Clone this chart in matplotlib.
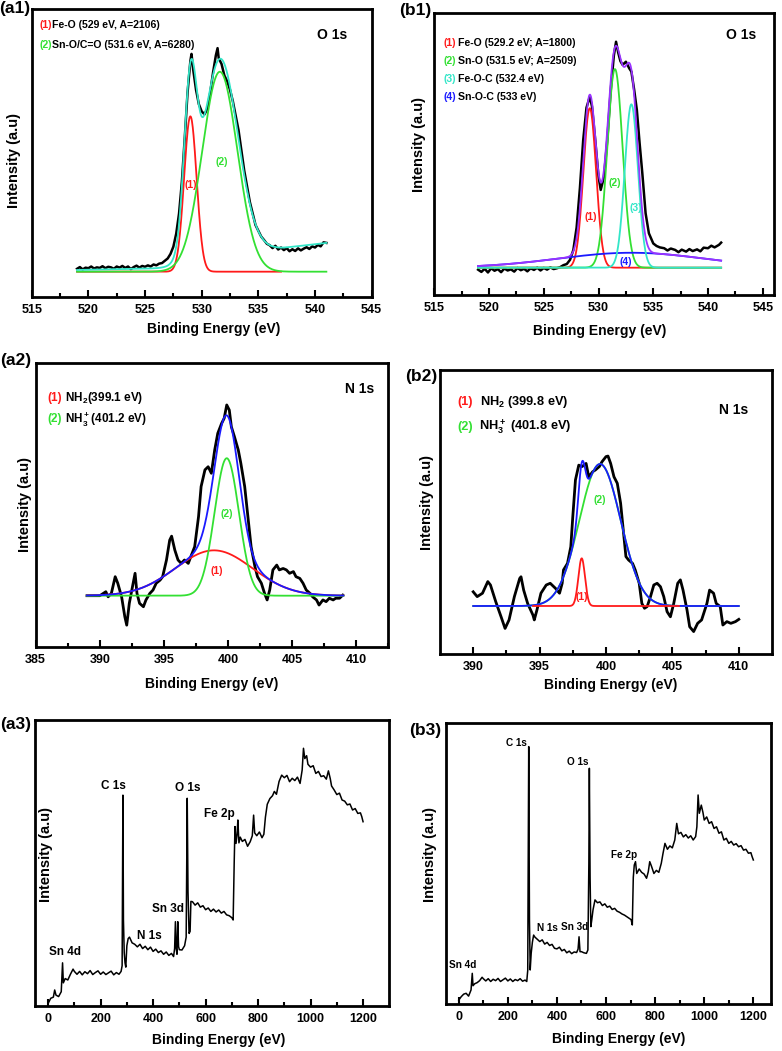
import numpy as np
import matplotlib.pyplot as plt

plt.rcParams['font.family'] = ['Liberation Sans', 'DejaVu Sans']
plt.rcParams['font.weight'] = 'bold'
plt.rcParams['mathtext.fontset'] = 'custom'
plt.rcParams['mathtext.rm'] = 'Liberation Sans:bold'
plt.rcParams['mathtext.bf'] = 'Liberation Sans:bold'

RED, GREEN, CYAN, BLUE, PURPLE = '#ff1a1a', '#33e033', '#33e6c8', '#1a1aff', '#9933ff'

# ---- (a1) O 1s raw spectrum (intensity in % of panel height) ----
a1_x = [519.0, 519.25, 519.5, 519.75, 520.0, 520.25, 520.5, 520.75, 521.0, 521.25, 521.5, 521.75,
        522.0, 522.25, 522.5, 522.75, 523.0, 523.25, 523.5, 523.75, 524.0, 524.25, 524.5, 524.75,
        525.0, 525.25, 525.5, 525.75, 526.0, 526.25, 526.5, 526.75, 527.0, 527.25, 527.5, 527.75,
        528.0, 528.25, 528.5, 528.75, 529.0, 529.1, 529.25, 529.5, 529.75, 530.0, 530.25, 530.5,
        530.75, 531.0, 531.25, 531.4, 531.5, 531.75, 532.0, 532.25, 532.5, 532.75, 533.0, 533.25,
        533.5, 533.75, 534.0, 534.25, 534.5, 534.75, 535.0, 535.25, 535.5, 535.75, 536.0, 536.25,
        536.5, 536.75, 537.0, 537.25, 537.5, 537.75, 538.0, 538.25, 538.5, 538.75, 539.0, 539.25,
        539.5, 539.75, 540.0, 540.25, 540.5, 540.75, 541.0]
a1_y = [9.8, 10.4, 9.6, 10.2, 10.0, 10.6, 9.9, 10.3, 10.1, 10.7, 10.0, 10.5,
        10.3, 9.8, 10.6, 10.2, 10.8, 10.1, 10.6, 9.7, 10.4, 10.9, 10.2, 10.8,
        10.5, 11.0, 10.6, 11.3, 11.0, 11.6, 11.8, 12.6, 13.4, 15.0, 17.5, 22.0,
        29.0, 40.0, 55.0, 71.0, 82.0, 84.5, 79.0, 72.0, 67.0, 64.5, 63.5, 65.5,
        71.0, 78.0, 84.0, 86.5, 83.0, 81.0, 77.0, 75.0, 72.0, 68.0, 63.0, 58.0,
        51.0, 44.0, 38.5, 33.0, 29.0, 25.0, 23.0, 21.0, 19.8, 18.5, 18.0, 17.0,
        17.8, 16.5, 17.2, 16.3, 17.0, 15.9, 16.6, 16.0, 16.9, 16.2, 16.8, 17.3,
        16.7, 17.6, 17.2, 18.1, 17.6, 19.0, 18.8]
a1_base = 8.8
a1_cen = [529.0, 531.6]
a1_amp = [54.0, 69.5]
a1_sig = [0.55, 1.55]
a1_bg_x = [519, 527, 529, 530, 531, 532, 533, 534, 535, 537, 541]
a1_bg_y = [0.6, 1.2, 1.8, 2.8, 3.8, 5.0, 6.3, 7.2, 7.8, 8.2, 10.0]

# ---- (b1) O 1s ----
b1_x = [519.0, 519.3, 519.6, 519.9, 520.2, 520.5, 520.8, 521.1, 521.4, 521.7, 522.0, 522.3, 522.6,
        522.9, 523.2, 523.5, 523.8, 524.1, 524.4, 524.7, 525.0, 525.3, 525.6, 525.9, 526.2, 526.5,
        526.8, 527.1, 527.4, 527.7, 528.0, 528.3, 528.6, 528.9, 529.2, 529.4, 529.7, 530.0, 530.2,
        530.5, 530.8, 531.1, 531.4, 531.6, 531.8, 532.0, 532.2, 532.5, 532.8, 533.0, 533.25, 533.5,
        533.75, 534.0, 534.3, 534.6, 535.0, 535.3, 535.6, 536.0, 536.3, 536.6, 537.0, 537.3, 537.6,
        538.0, 538.3, 538.6, 539.0, 539.3, 539.6, 540.0, 540.3, 540.6, 541.0, 541.2]
b1_y = [9.0, 8.2, 9.3, 8.0, 9.5, 8.6, 9.2, 8.1, 9.4, 8.7, 9.1, 8.3, 9.6,
        8.8, 9.3, 8.4, 9.5, 8.9, 9.7, 8.7, 9.6, 9.0, 9.8, 9.2, 9.5, 9.9,
        10.6, 11.0, 12.5, 16.0, 24.0, 38.0, 55.0, 66.5, 70.4, 67.0, 55.0, 42.0, 37.3,
        42.0, 55.0, 72.0, 85.0, 89.9, 86.0, 83.0, 81.7, 82.8, 80.5, 79.3, 73.0, 65.7,
        54.0, 43.2, 29.0, 21.9, 18.3, 17.4, 16.9, 16.6, 15.8, 16.5, 16.0, 15.2, 16.1,
        15.4, 16.3, 15.6, 16.2, 15.5, 16.8, 16.6, 17.5, 16.9, 17.8, 18.6]
b1_base = 9.7
b1_cen = [529.2, 531.5, 533.0, 533.0]
b1_amp = [56.6, 70.5, 58.0, 5.3]
b1_sig = [0.58, 0.70, 0.60, 6.7]

# ---- (a2) N 1s ----
a2_x = [389.0, 389.5, 390.0, 390.47, 390.65, 390.9, 391.2, 391.4, 391.7, 391.95, 392.1, 392.3,
        392.6, 392.75, 392.9, 393.1, 393.4, 393.6, 393.9, 394.15, 394.4, 394.7, 394.9, 395.2,
        395.45, 395.6, 395.85, 396.1, 396.35, 396.6, 396.9, 397.1, 397.4, 397.7, 397.9, 398.2,
        398.45, 398.7, 398.96, 399.2, 399.5, 399.7, 399.9, 400.1, 400.26, 400.5, 400.8, 401.0,
        401.3, 401.55, 401.8, 402.1, 402.3, 402.6, 402.85, 403.05, 403.25, 403.5, 403.8, 404.0,
        404.3, 404.55, 404.8, 405.1, 405.3, 405.6, 405.85, 406.1, 406.4, 406.6, 406.9, 407.1,
        407.4, 407.65, 407.9, 408.2, 408.4, 408.7, 408.95]
a2_y = [18.0, 18.0, 18.0, 19.4, 17.6, 18.8, 24.7, 22.4, 17.6, 10.6, 7.6, 15.3,
        22.4, 25.9, 18.8, 15.3, 14.1, 16.5, 18.8, 20.0, 22.4, 23.5, 24.7, 30.6,
        37.6, 39.0, 34.1, 30.6, 29.4, 30.6, 29.4, 31.8, 35.3, 45.9, 56.5, 62.4,
        63.5, 61.2, 69.4, 75.3, 78.8, 80.6, 85.3, 83.5, 77.6, 74.1, 69.4, 64.7,
        56.5, 45.9, 35.3, 28.2, 24.7, 22.4, 18.8, 16.5, 20.0, 27.1, 28.8, 27.1,
        27.6, 27.1, 25.9, 26.5, 24.7, 24.1, 22.4, 20.0, 18.8, 17.6, 16.5, 14.7,
        16.5, 15.9, 17.1, 16.5, 17.1, 17.1, 18.2]
a2_base = 18.0
a2_cen = [398.9, 399.9]
a2_amp = [16.0, 48.5]
a2_sig = [3.0, 0.95]

# ---- (b2) N 1s ----
b2_x = [390.0, 390.3, 390.7, 391.1, 391.3, 391.7, 392.1, 392.4, 392.7, 393.1, 393.5, 393.6,
        393.8, 394.1, 394.5, 394.6, 394.8, 395.1, 395.5, 395.8, 396.2, 396.5, 396.7, 396.8,
        397.1, 397.35, 397.5, 397.7, 397.95, 398.2, 398.5, 398.7, 399.0, 399.2, 399.5, 399.7,
        400.0, 400.15, 400.35, 400.6, 400.85, 401.1, 401.35, 401.5, 401.7, 402.0, 402.2, 402.5,
        402.7, 402.9, 403.1, 403.35, 403.6, 403.85, 404.1, 404.35, 404.6, 404.85, 405.1, 405.4,
        405.6, 405.8, 406.1, 406.3, 406.6, 406.9, 407.2, 407.6, 407.8, 408.1, 408.3, 408.6,
        408.8, 409.1, 409.4, 409.75, 410.0]
b2_y = [21.9, 20.2, 21.4, 25.5, 24.3, 18.4, 13.1, 9.0, 12.0, 20.2, 26.6, 27.2,
        22.5, 17.8, 13.7, 12.0, 15.5, 21.4, 24.3, 24.9, 23.1, 21.4, 24.9, 29.6,
        31.9, 37.8, 48.4, 61.3, 66.5, 66.0, 67.1, 62.4, 64.2, 64.8, 66.0, 67.7,
        69.5, 69.7, 67.1, 62.4, 60.1, 53.1, 41.3, 34.3, 33.1, 31.9, 29.6, 24.9,
        17.8, 16.1, 16.7, 20.2, 24.3, 24.9, 23.7, 20.2, 14.9, 13.1, 17.8, 24.9,
        26.1, 22.5, 15.5, 9.6, 7.9, 10.8, 12.0, 17.8, 22.5, 21.4, 17.8, 16.7,
        10.2, 11.4, 10.8, 11.4, 12.2]
b2_base = 16.9
b2_cen = [398.17, 399.55]
b2_amp = [16.8, 50.0]
b2_sig = [0.25, 1.55]

# ---- (a3) survey ----
a3_x = [0, 10, 20, 25, 30, 40, 50, 55, 58, 65, 75, 85, 95, 100, 110, 120, 130, 140, 150, 160,
        170, 180, 190, 200, 210, 220, 230, 240, 250, 260, 270, 278, 282, 285, 287, 290, 293, 296,
        300, 305, 310, 320, 330, 340, 350, 360, 370, 380, 390, 400, 410, 420, 430, 440, 450, 460,
        470, 478, 482, 485, 488, 491, 494, 497, 500, 510, 520, 526, 530, 533, 537, 541, 544, 550,
        560, 570, 580, 590, 600, 610, 620, 630, 640, 650, 660, 670, 680, 690, 700, 705, 709, 712,
        716, 720, 723, 727, 732, 740, 750, 760, 770, 778, 783, 787, 795, 805, 815, 822, 828, 835,
        845, 855, 862, 870, 880, 890, 900, 910, 920, 930, 940, 950, 960, 968, 973, 978, 985, 990,
        1000, 1010, 1020, 1030, 1040, 1050, 1060, 1068, 1075, 1080, 1090, 1100, 1110, 1120, 1130,
        1140, 1150, 1160, 1170, 1180, 1190, 1195, 1200]
a3_y = [0.8, 2.6, 3.0, 5.5, 3.7, 3.2, 4.9, 15.0, 8.0, 9.5, 9.0, 11.0, 12.8, 12.0, 11.0, 12.0,
        10.8, 11.9, 11.2, 12.3, 10.9, 11.6, 12.2, 11.0, 11.8, 10.9, 11.5, 12.1, 10.8, 11.6, 11.0,
        12.0, 14.0, 73.7, 30.0, 18.5, 15.0, 13.5, 21.0, 23.5, 24.0, 22.0, 21.5, 20.6, 21.5, 20.0,
        20.8, 19.6, 20.5, 19.0, 19.8, 18.6, 19.2, 18.0, 18.8, 17.6, 18.3, 17.2, 20.0, 29.4, 20.0,
        18.0, 29.4, 20.7, 19.6, 19.5, 21.0, 24.0, 72.6, 40.0, 25.3, 26.0, 36.5, 36.4, 35.2, 36.0,
        34.5, 35.0, 33.6, 34.2, 33.0, 33.8, 32.8, 33.5, 32.4, 33.0, 31.8, 31.5, 30.8, 30.0, 50.0,
        62.7, 56.8, 60.0, 65.0, 57.0, 59.0, 57.5, 58.2, 55.8, 57.4, 59.5, 66.7, 60.5, 59.5, 60.8,
        58.8, 60.0, 66.0, 70.5, 72.5, 73.5, 75.0, 74.0, 78.5, 80.7, 79.8, 80.6, 78.4, 79.6, 78.8,
        80.0, 77.8, 82.5, 90.1, 86.5, 87.5, 84.5, 83.5, 84.0, 81.3, 82.0, 80.2, 80.5, 79.3, 82.2,
        79.5, 76.9, 75.5, 73.9, 74.4, 72.0, 71.6, 70.3, 70.6, 68.5, 69.0, 67.3, 67.5, 66.2, 64.4]

# ---- (b3) survey ----
b3_x = [0, 10, 20, 30, 40, 50, 55, 58, 65, 75, 85, 95, 100, 110, 120, 130, 140, 150, 160, 170,
        180, 190, 200, 210, 220, 230, 240, 250, 260, 270, 277, 281, 285, 288, 291, 295, 300, 305,
        310, 320, 330, 340, 350, 360, 370, 380, 390, 400, 410, 420, 430, 440, 450, 460, 470, 480,
        486, 490, 494, 500, 510, 520, 526, 530, 532, 535, 538, 542, 547, 555, 565, 575, 585, 595,
        605, 615, 625, 635, 645, 655, 665, 675, 685, 695, 702, 707, 711, 715, 720, 725, 735, 745,
        755, 765, 772, 778, 785, 795, 805, 815, 825, 832, 840, 850, 860, 870, 880, 888, 895, 905,
        915, 925, 935, 945, 955, 965, 970, 975, 980, 988, 995, 1000, 1010, 1020, 1030, 1040, 1050,
        1060, 1070, 1080, 1090, 1100, 1110, 1120, 1130, 1140, 1150, 1160, 1170, 1180, 1190, 1195,
        1200]
b3_y = [1.4, 2.6, 3.5, 3.8, 2.8, 5.0, 10.9, 6.5, 7.2, 7.6, 8.3, 9.5, 9.0, 8.2, 9.0, 8.0, 8.8,
        8.3, 9.1, 8.0, 8.6, 9.2, 8.2, 8.9, 8.0, 8.7, 8.3, 9.0, 8.1, 8.5, 8.0, 12.0, 91.5, 30.0,
        12.1, 18.0, 22.0, 24.5, 23.8, 23.0, 22.2, 22.8, 21.3, 21.9, 20.8, 21.2, 19.8, 19.6, 20.2,
        18.9, 19.4, 18.2, 18.8, 17.9, 18.5, 18.3, 19.5, 23.9, 18.6, 18.6, 18.2, 18.0, 19.2, 50.0,
        83.8, 45.0, 27.5, 30.0, 33.5, 37.0, 36.0, 36.3, 35.0, 35.6, 34.4, 34.8, 33.6, 34.0, 33.0,
        32.6, 32.0, 31.6, 31.0, 30.4, 30.0, 28.1, 45.0, 49.4, 50.6, 46.4, 48.0, 46.8, 46.2, 44.7,
        47.0, 50.6, 49.0, 46.4, 47.5, 46.8, 50.0, 53.5, 57.1, 55.0, 56.2, 55.5, 58.3, 64.2, 60.5,
        61.0, 59.4, 60.2, 59.0, 59.8, 58.3, 59.5, 63.0, 74.3, 67.8, 70.7, 68.0, 65.4, 66.5, 64.2,
        64.8, 62.4, 63.0, 60.7, 61.2, 58.3, 58.9, 57.1, 57.8, 56.5, 57.0, 55.9, 56.3, 54.7, 55.0,
        53.6, 53.8, 52.4, 51.2]

W, H = 782, 1051
fig = plt.figure(figsize=(W / 100, H / 100), dpi=100)


def box(l, t, r, b):
    return [l / W, 1 - b / H, (r - l) / W, (b - t) / H]


def ftext(x, y, s, **kw):
    fig.text(x / W, 1 - y / H, s, ha='center', va='center', fontweight='bold', **kw)


def gauss(x, c, a, s):
    return a * np.exp(-(x - c) ** 2 / (2 * s * s))


def style(ax, xlim, major, minor):
    ax.set_xlim(*xlim)
    ax.set_ylim(0, 100)
    ax.set_xticks(major)
    ax.set_xticks(minor, minor=True)
    ax.set_yticks([])
    ax.tick_params(axis='x', which='both', direction='in', width=1.5, labelsize=9, pad=5)
    ax.tick_params(axis='x', which='major', length=5)
    ax.tick_params(axis='x', which='minor', length=3)
    for sp in ax.spines.values():
        sp.set_linewidth(2)
    for lb in ax.get_xticklabels():
        lb.set_fontweight('bold')


def legend_line(ax, x, y, num, color, label, size=7.6, gap=0.037):
    ax.text(x, y, num, color=color, fontsize=size, fontweight='bold', transform=ax.transAxes, va='center')
    ax.text(x + gap, y, label, color='black', fontsize=size, fontweight='bold', transform=ax.transAxes, va='center')


# (a1)
ax = fig.add_axes(box(31.7, 9.3, 371.7, 297))
style(ax, (515, 545), np.arange(515, 546, 5), np.arange(517.5, 545, 5))
ax.plot(a1_x, a1_y, color='black', lw=1.8)
xf = np.linspace(519, 541, 600)
red = gauss(xf, a1_cen[0], a1_amp[0], a1_sig[0])
grn = gauss(xf, a1_cen[1], a1_amp[1], a1_sig[1])
env = a1_base + red + grn + np.interp(xf, a1_bg_x, a1_bg_y)
m = xf <= 537
ax.plot(xf[m], a1_base + red[m], color=RED, lw=1.3)
ax.plot(xf, a1_base + grn, color=GREEN, lw=1.3)
ax.plot(xf, env, color=CYAN, lw=1.3)
ax.text(529.0, 38.9, '(1)', color=RED, fontsize=7.5, ha='center', va='center')
ax.text(531.75, 47.0, '(2)', color=GREEN, fontsize=7.5, ha='center', va='center')
legend_line(ax, 0.022, 0.945, '(1)', RED, 'Fe-O (529 eV, A=2106)', gap=0.039)
legend_line(ax, 0.022, 0.876, '(2)', GREEN, 'Sn-O/C=O (531.6 eV, A=6280)', gap=0.039)
ax.text(0.838, 0.911, 'O 1s', fontsize=10, transform=ax.transAxes, va='center')

# (b1)
ax = fig.add_axes(box(434.3, 13.3, 773.7, 295))
style(ax, (515, 546), np.arange(515, 546, 5), np.arange(517.5, 545, 5))
ax.plot(b1_x, b1_y, color='black', lw=1.8)
xf = np.linspace(519, 541.2, 600)
comps = [gauss(xf, c, a, s) for c, a, s in zip(b1_cen, b1_amp, b1_sig)]
ax.plot(xf, b1_base + comps[0], color=RED, lw=1.3)
ax.plot(xf, b1_base + comps[1], color=GREEN, lw=1.3)
ax.plot(xf, b1_base + comps[3], color=BLUE, lw=1.3)
ax.plot(xf, b1_base + comps[2], color=CYAN, lw=1.3)
ax.plot(xf, b1_base + sum(comps), color=PURPLE, lw=1.3)
ax.text(529.27, 27.8, '(1)', color=RED, fontsize=7.5, ha='center', va='center')
ax.text(531.46, 39.9, '(2)', color=GREEN, fontsize=7.5, ha='center', va='center')
ax.text(533.44, 30.8, '(3)', color=CYAN, fontsize=7.5, ha='center', va='center')
ax.text(532.5, 11.8, '(4)', color=BLUE, fontsize=7.5, ha='center', va='center')
legend_line(ax, 0.028, 0.896, '(1)', RED, 'Fe-O (529.2 eV; A=1800)', gap=0.041)
legend_line(ax, 0.028, 0.831, '(2)', GREEN, 'Sn-O (531.5 eV; A=2509)', gap=0.041)
legend_line(ax, 0.028, 0.766, '(3)', CYAN, 'Fe-O-C (532.4 eV)', gap=0.041)
legend_line(ax, 0.028, 0.702, '(4)', BLUE, 'Sn-O-C (533 eV)', gap=0.041)
ax.text(0.859, 0.923, 'O 1s', fontsize=10, transform=ax.transAxes, va='center')

# (a2)
ax = fig.add_axes(box(35.7, 363.3, 388.3, 646.7))
style(ax, (385, 412.5), np.arange(385, 411, 5), np.arange(387.5, 413, 5))
ax.plot(a2_x, a2_y, color='black', lw=2.0)
xf = np.linspace(389, 409, 600)
red = gauss(xf, a2_cen[0], a2_amp[0], a2_sig[0])
grn = gauss(xf, a2_cen[1], a2_amp[1], a2_sig[1])
ax.plot(xf, a2_base + red, color=RED, lw=1.3)
ax.plot(xf, a2_base + grn, color=GREEN, lw=1.3)
ax.plot(xf, a2_base + red + grn, color=BLUE, lw=1.3)
ax.text(399.1, 26.8, '(1)', color=RED, fontsize=7.5, ha='center', va='center')
ax.text(399.87, 46.7, '(2)', color=GREEN, fontsize=7.5, ha='center', va='center')
legend_line(ax, 0.034, 0.876, '(1)', RED, r'NH$_2$(399.1 eV)', size=8.5, gap=0.048)
legend_line(ax, 0.034, 0.802, '(2)', GREEN, r'NH$_3^+$(401.2 eV)', size=8.5, gap=0.048)
ax.text(0.877, 0.908, 'N 1s', fontsize=10, transform=ax.transAxes, va='center')

# (b2)
ax = fig.add_axes(box(440, 370, 772, 654))
style(ax, (387.5, 412.5), np.arange(390, 411, 5), np.arange(392.5, 410, 5))
ax.plot(b2_x, b2_y, color='black', lw=2.0)
xf = np.linspace(390, 410, 600)
red = gauss(xf, b2_cen[0], b2_amp[0], b2_sig[0])
grn = gauss(xf, b2_cen[1], b2_amp[1], b2_sig[1])
ax.plot(xf, b2_base + grn, color=GREEN, lw=1.3)
ax.plot(xf, b2_base + red + grn, color=BLUE, lw=1.3)
m = (xf > 394.5) & (xf < 405.5)
ax.plot(xf[m], b2_base + red[m], color=RED, lw=1.3)
ax.text(398.15, 20.2, '(1)', color=RED, fontsize=7.5, ha='center', va='center')
ax.text(399.55, 54.2, '(2)', color=GREEN, fontsize=7.5, ha='center', va='center')
legend_line(ax, 0.053, 0.889, '(1)', RED, r'NH$_2$ (399.8 eV)', size=9.2, gap=0.066)
legend_line(ax, 0.053, 0.800, '(2)', GREEN, r'NH$_3^+$ (401.8 eV)', size=9.2, gap=0.063)
ax.text(0.841, 0.859, 'N 1s', fontsize=10, transform=ax.transAxes, va='center')

# (a3)
ax = fig.add_axes(box(35, 720, 389.3, 1005.7))
style(ax, (-50, 1300), np.arange(0, 1201, 200), np.arange(100, 1200, 200))
ax.plot(a3_x, a3_y, color='black', lw=1.1)
for lab, lx, ly in [('C 1s', 247.6, 76.9), ('O 1s', 533, 76.1), ('Fe 2p', 654, 67.1),
                    ('Sn 3d', 457, 33.7), ('N 1s', 387, 24.4), ('Sn 4d', 63.5, 18.9)]:
    ax.text(lx, ly, lab, fontsize=8.5, ha='center', va='center')

# (b3)
ax = fig.add_axes(box(446, 722.7, 771, 1004))
style(ax, (-52, 1272), np.arange(0, 1201, 200), np.arange(100, 1200, 200))
ax.plot(b3_x, b3_y, color='black', lw=1.1)
for lab, lx, ly in [('C 1s', 233.6, 92.7), ('O 1s', 484.6, 86.1), ('Fe 2p', 674.6, 53.0),
                    ('Sn 3d', 471, 27.3), ('N 1s', 362.4, 26.9), ('Sn 4d', 16.3, 13.9)]:
    ax.text(lx, ly, lab, fontsize=7.2, ha='center', va='center')

# axis titles and panel tags
for x, y in [(214, 329), (600, 331), (212, 684), (611, 685), (219, 1040), (619, 1039)]:
    ftext(x, y, 'Binding Energy (eV)', fontsize=10)
for x, y in [(14, 160), (418.5, 145), (25, 505), (427, 502), (46, 855), (430, 855)]:
    ftext(x, y, 'Intensity (a.u)', fontsize=10.5, rotation=90)
for tag, x, y in [('(a1)', 15, 9), ('(b1)', 415, 11), ('(a2)', 16, 360),
                  ('(b2)', 421, 376), ('(a3)', 16, 724), ('(b3)', 425, 731)]:
    ftext(x, y, tag, fontsize=12.5)

fig.savefig('out.png', dpi=100)
